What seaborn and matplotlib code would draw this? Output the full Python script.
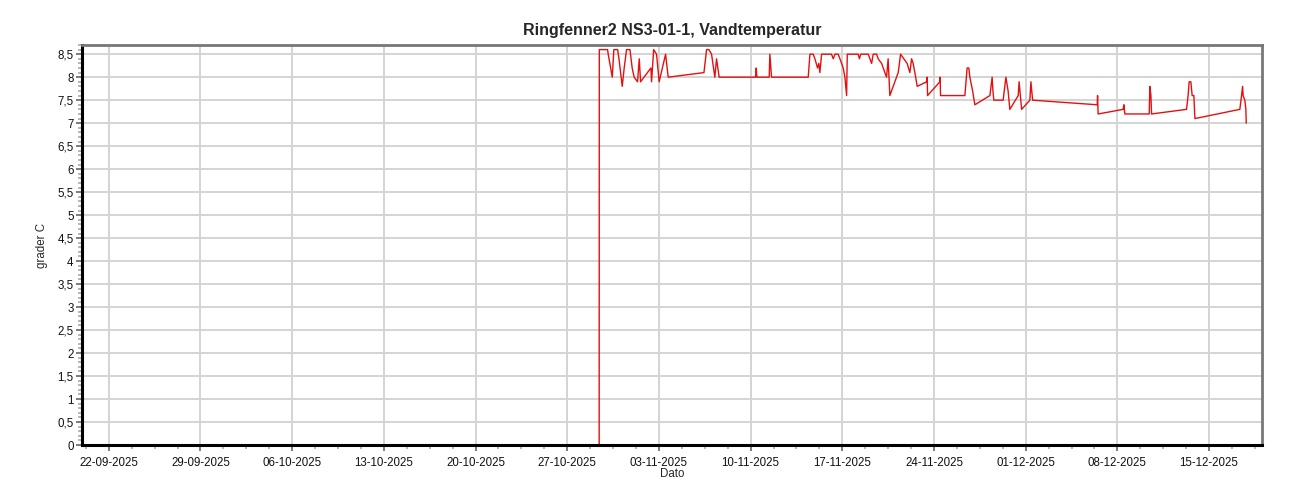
import numpy as np
import pandas as pd
import matplotlib
matplotlib.use("Agg")
import matplotlib.pyplot as plt
import matplotlib.dates as mdates
from matplotlib.ticker import FuncFormatter, MultipleLocator, FixedLocator
import seaborn as sns

# ---- data ----
start_date = "2025-10-29"
# elapsed days since start_date for each reading
day_offset = [
    0.44, 0.45, 1.08, 1.13, 1.44, 1.56, 1.85, 1.95, 2.20, 2.35,
    2.53, 2.79, 2.96, 3.11, 3.37, 3.50, 3.60, 4.39, 4.44, 4.60,
    4.82, 5.02, 5.51, 5.71, 8.44, 8.64, 8.82, 9.02, 9.27, 9.40,
    9.60, 12.38, 12.43, 12.48, 13.42, 13.47, 13.60, 16.40, 16.53, 16.78,
    16.91, 17.11, 17.21, 17.29, 17.42, 18.18, 18.31, 18.44, 18.69, 18.82,
    19.07, 19.20, 19.33, 19.38, 20.21, 20.31, 20.40, 20.98, 21.11, 21.24,
    21.36, 21.62, 21.74, 22.00, 22.25, 22.38, 22.50, 22.63, 23.27, 23.45,
    23.70, 23.95, 24.16, 24.29, 24.41, 24.54, 24.72, 25.44, 25.48, 25.51,
    26.45, 26.47, 26.50, 28.36, 28.53, 28.66, 28.74, 28.95, 29.12, 30.27,
    30.44, 30.50, 30.57, 31.28, 31.49, 31.66, 31.79, 32.43, 32.50, 32.69,
    33.32, 33.40, 33.53, 38.46, 38.49, 38.53, 40.44, 40.50, 40.57, 42.43,
    42.48, 42.56, 42.61, 45.28, 45.40, 45.48, 45.61, 45.71, 45.84, 45.92,
    49.35, 49.48, 49.56, 49.60, 49.73, 49.81, 49.84,
]
temperature = [
    0.0, 8.6, 8.6, 8.5, 8.0, 8.6, 8.6, 8.4, 7.8, 8.2,
    8.6, 8.6, 8.2, 8.0, 7.9, 8.4, 7.9, 8.2, 7.9, 8.6,
    8.5, 7.9, 8.5, 8.0, 8.1, 8.6, 8.6, 8.5, 8.0, 8.4,
    8.0, 8.0, 8.2, 8.0, 8.0, 8.5, 8.0, 8.0, 8.5, 8.5,
    8.4, 8.2, 8.3, 8.1, 8.5, 8.5, 8.4, 8.5, 8.5, 8.4,
    8.2, 8.0, 7.6, 8.5, 8.5, 8.4, 8.5, 8.5, 8.4, 8.3,
    8.5, 8.5, 8.4, 8.3, 8.1, 8.0, 8.4, 7.6, 8.1, 8.5,
    8.4, 8.3, 8.1, 8.4, 8.3, 8.1, 7.8, 7.9, 8.0, 7.6,
    7.9, 8.0, 7.6, 7.6, 8.2, 8.2, 8.0, 7.7, 7.4, 7.6,
    8.0, 7.7, 7.5, 7.5, 8.0, 7.7, 7.3, 7.6, 7.9, 7.3,
    7.5, 7.9, 7.5, 7.4, 7.6, 7.2, 7.3, 7.4, 7.2, 7.2,
    7.8, 7.6, 7.2, 7.3, 7.6, 7.9, 7.9, 7.6, 7.6, 7.1,
    7.3, 7.6, 7.8, 7.6, 7.5, 7.3, 7.0,
]
x_start, x_end = "2025-09-19 23:00", "2025-12-19 01:00"
first_major = "2025-09-22"
last_major = "2025-12-15"
y_max = 8.7

title = "Ringfenner2 NS3-01-1, Vandtemperatur"
x_label = "Dato"
y_label = "grader C"

# ---- build frame ----
times = pd.to_datetime(start_date) + pd.to_timedelta(day_offset, unit="D")
df = pd.DataFrame({"time": times, "temp": temperature})

sns.set_style("white")
plt.rcParams["font.family"] = ["Liberation Sans", "DejaVu Sans"]

fig = plt.figure(figsize=(13, 5), dpi=100)
ax = fig.add_axes([82 / 1300, 1 - 445 / 500, (1262 - 82) / 1300, (445 - 45) / 500])

sns.lineplot(data=df, x="time", y="temp", ax=ax, color="#e41010",
             linewidth=1.0, estimator=None, sort=False)

ax.set_xlim(pd.to_datetime(x_start), pd.to_datetime(x_end))
ax.set_ylim(0, y_max)

# x ticks: weekly majors, minors every 1.75 days
majors = pd.date_range(first_major, last_major, freq="7D")
ax.xaxis.set_major_locator(FixedLocator(mdates.date2num(majors)))
minor_num = np.arange(mdates.date2num(pd.to_datetime(first_major)) - 1.75,
                      mdates.date2num(pd.to_datetime(x_end)), 1.75)
ax.xaxis.set_minor_locator(FixedLocator(minor_num))
ax.xaxis.set_major_formatter(mdates.DateFormatter("%d-%m-%Y"))

ax.yaxis.set_major_locator(MultipleLocator(0.5))
ax.yaxis.set_minor_locator(MultipleLocator(0.1))
ax.yaxis.set_major_formatter(FuncFormatter(
    lambda v, p: ("%g" % round(v, 2)).replace(".", ",")))

ax.grid(True, which="major", color="#d4d4d4", linewidth=1.4)
ax.set_axisbelow(True)

ax.tick_params(axis="both", which="both", bottom=True, left=True,
               top=False, right=False)
ax.tick_params(axis="both", which="major", direction="out", length=4,
               width=1.2, color="#666666", labelsize=8.3, labelcolor="#111111", pad=2)
ax.tick_params(axis="both", which="minor", direction="out", length=3,
               width=1.2, color="#aaaaaa")
ax.tick_params(axis="x", which="major", pad=5)

for side in ["left", "bottom"]:
    ax.spines[side].set_color("black")
    ax.spines[side].set_linewidth(2.2)
for side in ["top", "right"]:
    ax.spines[side].set_color("#777777")
    ax.spines[side].set_linewidth(2.0)
    ax.spines[side].set_visible(True)

ax.set_title(title, fontsize=11.5, fontweight="bold", pad=7)
ax.set_xlabel(x_label, fontsize=8.3, labelpad=-1)
ax.set_ylabel(y_label, fontsize=8.3, labelpad=7)

fig.savefig("out.png", dpi=100, facecolor="white")
